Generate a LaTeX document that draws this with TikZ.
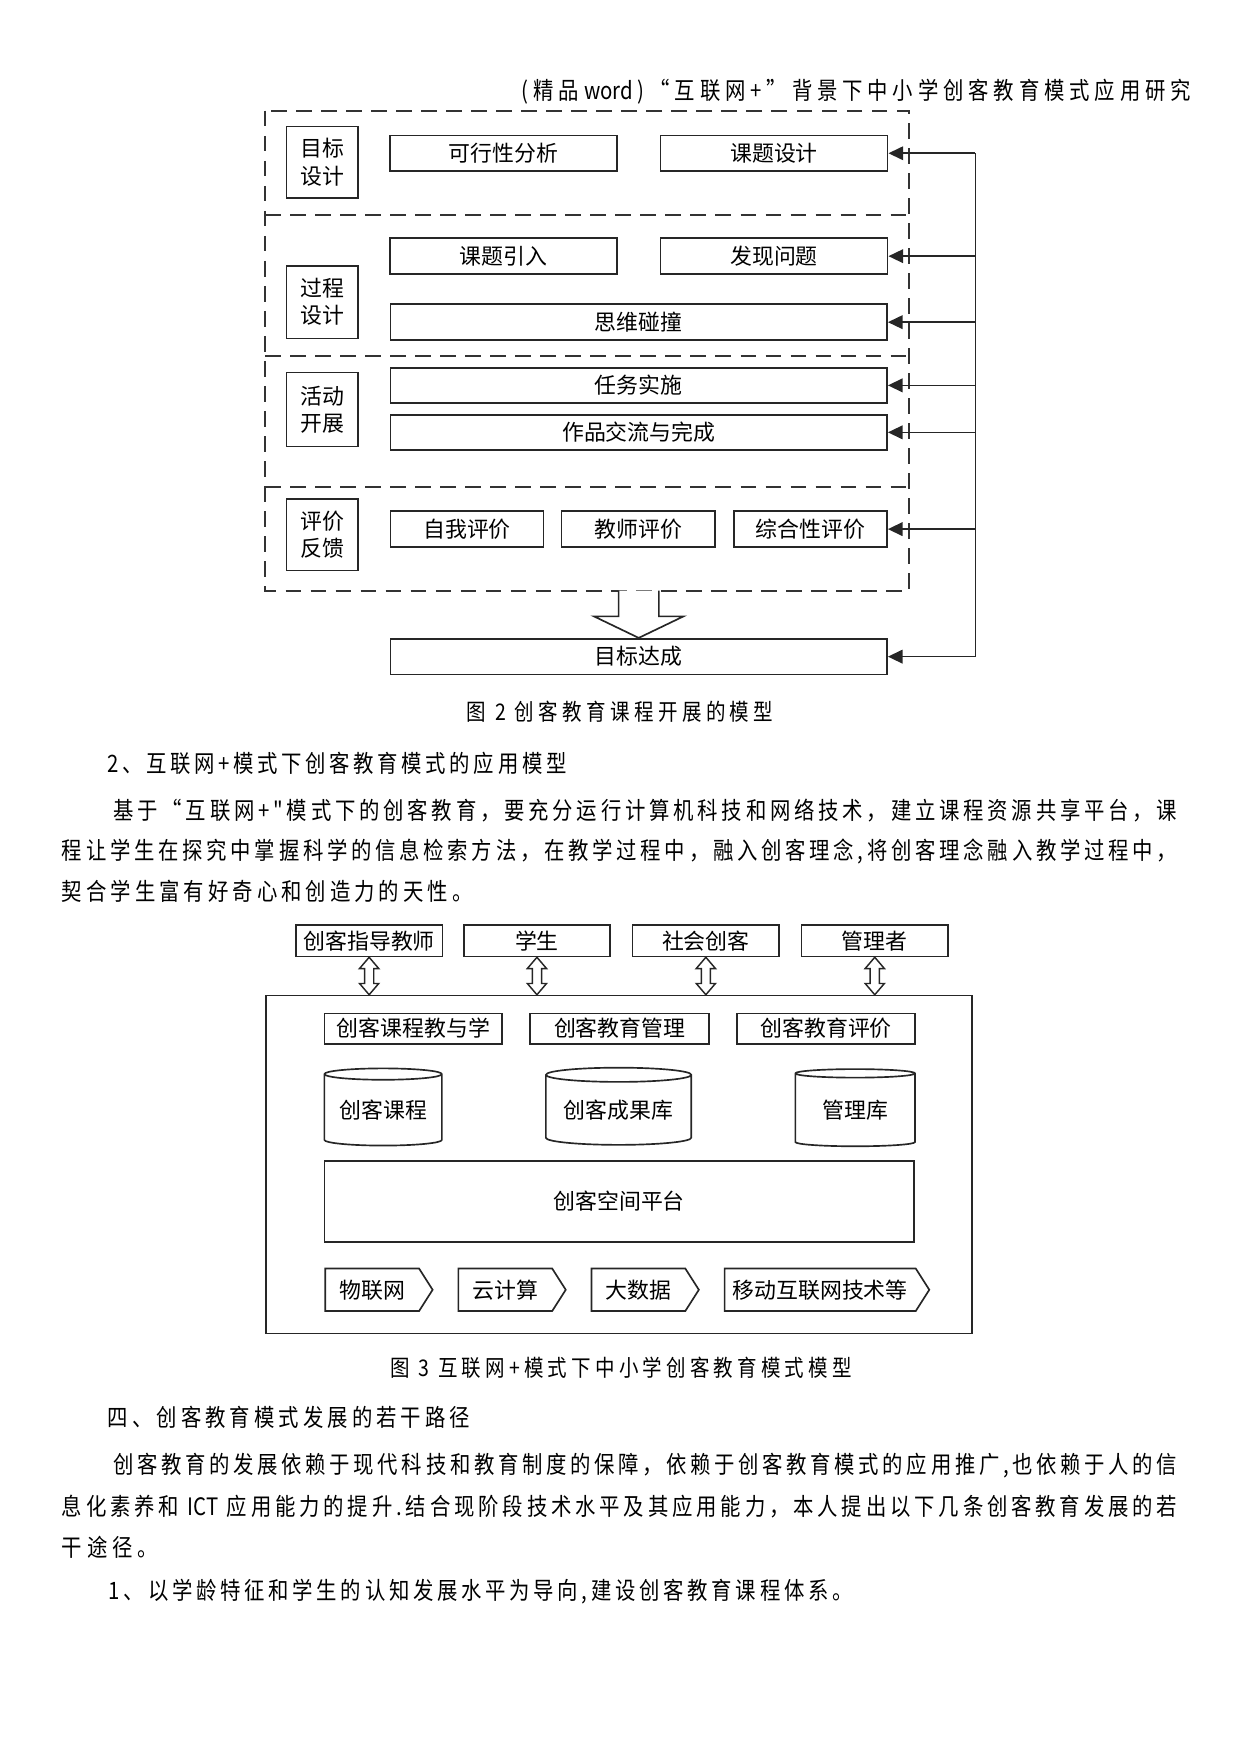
\documentclass[tikz,border=0pt]{standalone}
\usepackage{fontspec}
\setmainfont{Noto Sans CJK SC}
\newfontfamily\cnsans{Noto Sans CJK SC}
\newfontfamily\cnbody[FakeStretch=0.85]{Noto Sans CJK SC}
\usetikzlibrary{arrows.meta,shapes.geometric,shapes.symbols,calc}
\newcommand\px{0.5365pt}
% a line of text spread over a width given in picture units
\ExplSyntaxOn
\NewDocumentCommand\jline{mm}{\hbox~to~\dimexpr\px*#1\relax{\tl_map_inline:nn{#2}{##1\hfil}\unskip}}
\ExplSyntaxOff

\begin{document}
\begin{tikzpicture}[
    x=\px, y=-\px,
    line/.style={draw=black!85, line width=0.8pt},
    box/.style={line, fill=white, inner sep=0pt, font=\cnsans\fontsize{10.5}{12}\selectfont},
    tag/.style={box, minimum width=64*\px, minimum height=64*\px, align=center, font=\cnsans\fontsize{10.5}{13}\selectfont},
    halfbox/.style={box, minimum width=203*\px, minimum height=32*\px},
    longbox/.style={box, minimum width=444*\px, minimum height=32*\px},
    evalbox/.style={box, minimum width=137*\px, minimum height=32*\px},
    frame/.style={draw=black!80, line width=1pt, dash pattern=on 7.5pt off 4.5pt},
    fb/.style={line, -{Triangle[length=7pt,width=6.5pt]}},
    role/.style={box, minimum width=131*\px, minimum height=28*\px},
    module/.style={box, minimum width=160*\px, minimum height=27*\px},
    store/.style={box, cylinder, shape border rotate=90, aspect=0.13, minimum height=69*\px},
    tech/.style={box, signal, signal to=east, signal pointer angle=115, minimum height=38*\px, anchor=west},
    body/.style={inner sep=0pt, anchor=west, font=\cnbody\fontsize{11.5}{13}\selectfont},
    caption/.style={body, font=\cnbody\fontsize{11}{13}\selectfont}
]
\useasboundingbox (0,0) rectangle (1109,1568);

% ==================== HEADER ====================
\node[body, anchor=east] (hdr) at (1065,82) {\jline{598}{(精品{word})“互联网+”背景下中小学创客教育模式应用研究}};

% ==================== FIGURE 2 ====================
% Dashed stages
\draw[frame] (237,99) rectangle (813,528);
\foreach \y in {192,318,435}
    \draw[frame] (237,\y) -- (813,\y);

% Stage tags
\node[tag] (mbsj) at (288,145) {目标\\设计};
\node[tag, minimum height=65*\px] (gcsj) at (288,270) {过程\\设计};
\node[tag, minimum height=66*\px] (hdkz) at (288,366) {活动\\开展};
\node[tag] (pjfk) at (288,478) {评价\\反馈};

% Stage contents
\node[halfbox] (kxx) at (450,137) {可行性分析};
\node[halfbox] (ktsj) at (692,137) {课题设计};
\node[halfbox] (ktyr) at (450,229) {课题引入};
\node[halfbox] (fxwt) at (692,229) {发现问题};
\node[longbox] (swpz) at (571,288) {思维碰撞};
\node[longbox, minimum height=31*\px] (rwss) at (571,344.5) {任务实施};
\node[longbox, minimum height=31*\px] (zpjl) at (571,386.5) {作品交流与完成};
\node[evalbox] (zwpj) at (417.5,473) {自我评价};
\node[evalbox] (jspj) at (570.5,473) {教师评价};
\node[evalbox] (zhpj) at (724.5,473) {综合性评价};
\node[longbox] (goal) at (571,587) {目标达成};

% Block arrow down to the goal
\draw[line, fill=white] (553,528) -- (553,551) -- (531,551) -- (goal.north)
    -- (611,551) -- (589,551) -- (589,528);

% Feedback rail
\coordinate (rail) at (872,137);
\draw[line] (ktsj.east -| rail) -- (goal.east -| rail);
\foreach \n in {ktsj,fxwt,swpz,rwss,zpjl,zhpj,goal}
    \draw[fb] (\n.east -| rail) -- (\n.east);

\node[caption] (cap2) at (417,636) {\jline{274}{图{\ 2\ }创客教育课程开展的模型}};

% ==================== TEXT ====================
\node[body] (sec2) at (96,682) {\jline{410}{2、互联网+模式下创客教育模式的应用模型}};
\node[body] (pa1) at (101,725) {\jline{951}{基于“互联网+"模式下的创客教育，要充分运行计算机科技和网络技术，建立课程资源共享平台，课}};
\node[body] (pa2) at (55,761) {\jline{997}{程让学生在探究中掌握科学的信息检索方法，在教学过程中，融入创客理念,将创客理念融入教学过程中，}};
\node[body] (pa3) at (55,797) {\jline{367}{契合学生富有好奇心和创造力的天性。}};

% ==================== FIGURE 3 ====================
% Users
\node[role] (jsh) at (330,841) {创客指导教师};
\node[role] (xs) at (480,841) {学生};
\node[role] (shck) at (631,841) {社会创客};
\node[role] (glz) at (782,841) {管理者};

% Platform frame
\node[line, minimum width=631*\px, minimum height=302*\px] (mainbox) at (553.5,1041) {};

% Two-way links
\foreach \who in {jsh,xs,shck,glz}
    \draw[line, line width=0.7pt, fill=white]
        let \p1=(\who.south), \p2=(\who.south |- mainbox.north) in
        (\x1,\y1) -- (\x1+4.6pt,\y1-5.4pt) -- (\x1+2.2pt,\y1-5.4pt)
        -- (\x1+2.2pt,\y2+5.4pt) -- (\x1+4.6pt,\y2+5.4pt) -- (\x1,\y2)
        -- (\x1-4.6pt,\y2+5.4pt) -- (\x1-2.2pt,\y2+5.4pt)
        -- (\x1-2.2pt,\y1-5.4pt) -- (\x1-4.6pt,\y1-5.4pt) -- cycle;

% Modules
\node[module, minimum width=159*\px] (kcjx) at (369.5,919.5) {创客课程教与学};
\node[module] (jygl) at (554,919.5) {创客教育管理};
\node[module, minimum width=159*\px] (jypj) at (738.5,919.5) {创客教育评价};

% Stores
\node[store, minimum width=105*\px] (kc) at (342.5,992.5) {创客课程};
\node[store, minimum width=130*\px] (cgk) at (553,992.5) {创客成果库};
\node[store, minimum width=107*\px] (glk) at (764.5,992.5) {管理库};

\node[box, minimum width=527*\px, minimum height=72*\px] (kjpt) at (553.5,1074) {创客空间平台};

% Technologies
\node[tech, minimum width=96*\px] (wlw) at (290,1153) {物联网};
\node[tech, minimum width=96*\px] (yjs) at (409,1153) {云计算};
\node[tech, minimum width=96*\px] (dsj) at (528,1153) {大数据};
\node[tech, minimum width=183*\px] (ydhl) at (647,1153) {移动互联网技术等};

\node[caption] (cap3) at (349,1223) {\jline{412}{图{\ 3\ }互联网+模式下中小学创客教育模式模型}};

% ==================== TEXT ====================
\node[body] (sec4) at (96,1267) {\jline{324}{四、创客教育模式发展的若干路径}};
\node[body] (pb1) at (101,1310) {\jline{951}{创客教育的发展依赖于现代科技和教育制度的保障，依赖于创客教育模式的应用推广,也依赖于人的信}};
\node[body] (pb2) at (55,1347) {\jline{997}{息化素养和{\ ICT\ }应用能力的提升.结合现阶段技术水平及其应用能力，本人提出以下几条创客教育发展的若}};
\node[body] (pb3) at (55,1383) {\jline{86}{干途径。}};
\node[body] (pb4) at (97,1423) {\jline{665}{1、以学龄特征和学生的认知发展水平为导向,建设创客教育课程体系。}};

\end{tikzpicture}
\end{document}
